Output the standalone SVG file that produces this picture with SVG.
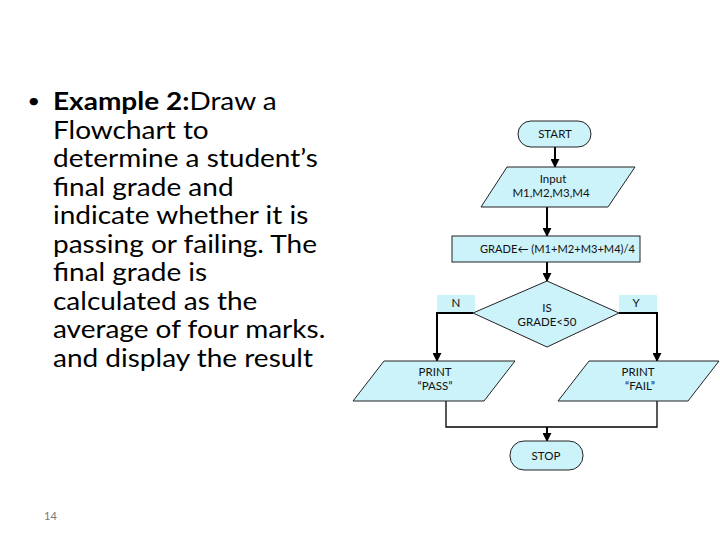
<svg xmlns="http://www.w3.org/2000/svg" width="720" height="540" viewBox="0 0 720 540">
<defs>
<style>
.shape{fill:#ccf3f9;stroke:#222;stroke-width:1}
.lbl{fill:#ccf3f9;stroke:none}
.t{font-family:Lato,"Liberation Sans",sans-serif;font-size:11.5px;fill:#111;text-anchor:middle}
.ts{text-anchor:start}
.body{font-family:Lato,"Open Sans",sans-serif;font-size:25px;fill:#000}
.arr{fill:none;stroke:#000;stroke-width:2}
.thin{fill:none;stroke:#000;stroke-width:1.3}
</style>
<marker id="ah" viewBox="0 0 10 10" refX="9" refY="5" markerWidth="4.5" markerHeight="4.5" orient="auto" markerUnits="strokeWidth">
<path d="M0,0 L10,5 L0,10 z" fill="#000"/>
</marker>
</defs>
<rect width="720" height="540" fill="#fff"/>

<g id="description" transform="matrix(1.12,0,0,1,-6.36,0)">
<text class="body" x="30" y="108" style="font-size:20px">•</text>
<text class="body" x="53" y="110"><tspan font-weight="bold">Example 2:</tspan>Draw a</text>
<text class="body" x="53" y="139">Flowchart  to</text>
<text class="body" x="53" y="167">determine a student’s</text>
<text class="body" x="53" y="196">final grade and</text>
<text class="body" x="53" y="224">indicate whether it is</text>
<text class="body" x="53" y="253">passing or failing. The</text>
<text class="body" x="53" y="281">final grade is</text>
<text class="body" x="53" y="310">calculated as the</text>
<text class="body" x="53" y="338">average of four marks.</text>
<text class="body" x="53" y="367">and display the result</text>
</g>
<text x="44" y="520" font-family="Lato,'Liberation Sans',sans-serif" font-size="11" fill="#777">14</text>

<g id="connectors">
<line class="arr" x1="555" y1="147" x2="555" y2="167" marker-end="url(#ah)"/>
<line class="arr" x1="547" y1="207" x2="547" y2="236" marker-end="url(#ah)"/>
<line class="arr" x1="547" y1="262" x2="547" y2="281" marker-end="url(#ah)"/>
<polyline class="arr" points="473,313 437,313 437,361" marker-end="url(#ah)"/>
<polyline class="arr" points="619,313 657,313 657,361" marker-end="url(#ah)"/>
<polyline class="thin" points="446,401 446,427 657,427 657,401"/>
<line class="arr" x1="547" y1="427" x2="547" y2="441" marker-end="url(#ah)"/>
</g>

<g id="start">
<rect class="shape" x="518" y="121" width="73" height="26" rx="13"/>
<text class="t" x="555" y="138">START</text>
</g>
<g id="input">
<polygon class="shape" points="507,167 635,167 608,207 481,207"/>
<text class="t" x="553" y="183">Input</text>
<text class="t" x="551" y="197">M1,M2,M3,M4</text>
</g>
<g id="grade">
<rect class="shape" x="452" y="236" width="188" height="26"/>
<text class="t ts" x="480" y="253" textLength="155" lengthAdjust="spacingAndGlyphs">GRADE← (M1+M2+M3+M4)/4</text>
</g>
<g id="decision">
<polygon class="shape" points="547,281 619,313 547,347 473,313"/>
<text class="t" x="547" y="312">IS</text>
<text class="t" x="547" y="326">GRADE&lt;50</text>
</g>
<g id="label-n">
<rect class="lbl" x="437" y="295" width="38" height="17"/>
<text class="t" x="456" y="307">N</text>
</g>
<g id="label-y">
<rect class="lbl" x="619" y="295" width="38" height="17"/>
<text class="t" x="636" y="307">Y</text>
</g>
<g id="print-pass">
<polygon class="shape" points="384,361 515,361 484,401 353,401"/>
<text class="t" x="435" y="376">PRINT</text>
<text class="t" x="435" y="390">“PASS”</text>
</g>
<g id="print-fail">
<polygon class="shape" points="589,361 719,361 688,401 558,401"/>
<text class="t" x="638" y="376">PRINT</text>
<text class="t" x="640" y="390">“FAIL”</text>
</g>
<g id="stop">
<rect class="shape" x="510" y="441" width="73" height="29" rx="14"/>
<text class="t" x="546" y="460">STOP</text>
</g>
</svg>
